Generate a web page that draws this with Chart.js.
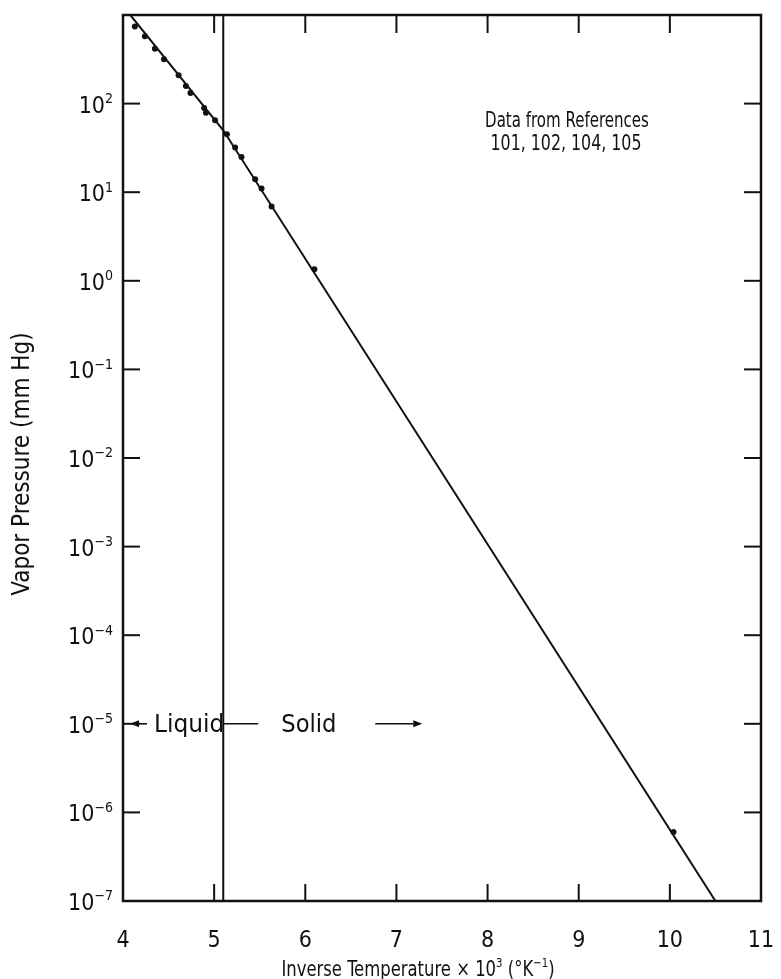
<!DOCTYPE html>
<html>
<head>
<meta charset="utf-8">
<script src="https://cdn.jsdelivr.net/npm/chart.js@4.4.1/dist/chart.umd.min.js"></script>
<style>
  html, body { margin: 0; padding: 0; background: #fff; }
  #wrap { width: 781px; height: 979px; }
</style>
</head>
<body>
<div id="wrap"><canvas id="vp" width="781" height="979"></canvas></div>
<script>
// axis ticks
const xTicks = [4, 5, 6, 7, 8, 9, 10, 11];
const yDecades = [-7, -6, -5, -4, -3, -2, -1, 0, 1, 2];

// fitted curve: liquid branch, bend at the triple point, solid branch
const curveX = [4.08, 5.1, 10.5];
const curveP = [1000, 50, 1e-7];

// measured points (mm Hg)
const measuredX = [4.13, 4.24, 4.35, 4.45, 4.61, 4.69, 4.74, 4.89, 4.91, 5.01,
                   5.14, 5.23, 5.30, 5.45, 5.52, 5.63, 6.10, 10.04];
const measuredP = [741, 575, 417, 316, 209, 158, 132, 89, 79, 65,
                   45, 32, 25, 14, 11, 6.9, 1.35, 6.0e-7];

const triplePointX = 5.1;
const phaseLabelP = 1e-5;

const FONT = "'Liberation Sans Narrow', 'DejaVu Sans Condensed', 'Liberation Sans', sans-serif";
const INK = "#111";

function strokeLine(ctx, x1, y1, x2, y2) {
  ctx.beginPath();
  ctx.moveTo(x1, y1);
  ctx.lineTo(x2, y2);
  ctx.stroke();
}

function arrowHead(ctx, x, y, dir) {
  ctx.beginPath();
  ctx.moveTo(x, y);
  ctx.lineTo(x - dir * 9, y - 3.5);
  ctx.lineTo(x - dir * 9, y + 3.5);
  ctx.closePath();
  ctx.fill();
}

// draws a run of text pieces, some of them raised as superscripts;
// squeeze < 1 narrows the glyphs horizontally
function drawRuns(ctx, runs, x, baseline, size, align, squeeze = 1) {
  const supSize = Math.round(size * 0.62);
  const widths = runs.map((r) => {
    ctx.font = `${r.sup ? supSize : size}px ${FONT}`;
    return ctx.measureText(r.t).width * squeeze;
  });
  const total = widths.reduce((a, b) => a + b, 0);
  let cx = align === "right" ? x - total : align === "center" ? x - total / 2 : x;
  ctx.textAlign = "left";
  ctx.textBaseline = "alphabetic";
  runs.forEach((r, i) => {
    ctx.font = `${r.sup ? supSize : size}px ${FONT}`;
    ctx.save();
    ctx.translate(cx, r.sup ? baseline - size * 0.42 : baseline);
    ctx.scale(squeeze, 1);
    ctx.fillText(r.t, 0, 0);
    ctx.restore();
    cx += widths[i];
  });
}

const framePlugin = {
  id: "frame",
  afterDatasetsDraw(chart) {
    const { ctx, chartArea: a, scales: { x, y } } = chart;
    ctx.save();
    ctx.strokeStyle = INK;
    ctx.fillStyle = INK;
    ctx.lineCap = "butt";

    // plot frame
    ctx.lineWidth = 2.5;
    ctx.strokeRect(a.left, a.top, a.right - a.left, a.bottom - a.top);

    // inward tick marks on all four sides
    ctx.lineWidth = 2;
    xTicks.slice(1, -1).forEach((v) => {
      const px = x.getPixelForValue(v);
      strokeLine(ctx, px, a.bottom, px, a.bottom - 17);
      strokeLine(ctx, px, a.top, px, a.top + 18);
    });
    yDecades.slice(1).forEach((e) => {
      const py = y.getPixelForValue(Math.pow(10, e));
      strokeLine(ctx, a.left, py, a.left + 17, py);
      strokeLine(ctx, a.right, py, a.right - 17, py);
    });

    // triple point divider
    const tx = x.getPixelForValue(triplePointX);
    strokeLine(ctx, tx, a.top, tx, a.bottom);

    // phase labels
    const py = y.getPixelForValue(phaseLabelP);
    ctx.lineWidth = 1.6;
    strokeLine(ctx, a.left + 10, py, a.left + 24, py);
    arrowHead(ctx, a.left + 7, py, -1);
    drawRuns(ctx, [{ t: "Liquid" }], a.left + 31, py + 8, 24, "left", 1.08);
    strokeLine(ctx, tx, py, tx + 35, py);
    drawRuns(ctx, [{ t: "Solid" }], tx + 58, py + 8, 24, "left", 1.05);
    strokeLine(ctx, tx + 152, py, tx + 190, py);
    arrowHead(ctx, tx + 199, py, 1);

    // source note
    drawRuns(ctx, [{ t: "Data from References" }], 567, 127, 22, "center", 0.76);
    drawRuns(ctx, [{ t: "101, 102, 104, 105" }], 566, 150, 22, "center", 0.8);
    ctx.restore();
  },
  afterDraw(chart) {
    const { ctx, chartArea: a, scales: { x, y } } = chart;
    ctx.save();
    ctx.fillStyle = INK;

    // y tick labels 10^n
    yDecades.forEach((e) => {
      const py = y.getPixelForValue(Math.pow(10, e));
      const exp = e < 0 ? "\u2212" + Math.abs(e) : String(e);
      drawRuns(ctx, [{ t: "10" }, { t: exp, sup: true }], a.left - 10, py + 9, 23, "right");
    });

    // x tick labels
    ctx.font = `23px ${FONT}`;
    ctx.textAlign = "center";
    ctx.textBaseline = "middle";
    xTicks.forEach((v) => ctx.fillText(String(v), x.getPixelForValue(v), a.bottom + 40));

    // axis titles
    drawRuns(ctx, [
      { t: "Inverse Temperature \u00d7 10" }, { t: "3", sup: true },
      { t: " (\u00b0K" }, { t: "\u22121", sup: true }, { t: ")" }
    ], 418, 976, 21, "center", 0.87);

    ctx.translate(29, (a.top + a.bottom) / 2 + 6);
    ctx.rotate(-Math.PI / 2);
    drawRuns(ctx, [{ t: "Vapor Pressure (mm Hg)" }], 0, 0, 24, "center");
    ctx.restore();
  }
};

new Chart(document.getElementById("vp"), {
  type: "scatter",
  data: {
    datasets: [
      {
        data: curveX.map((v, i) => ({ x: v, y: curveP[i] })),
        showLine: true,
        borderColor: INK,
        borderWidth: 2,
        pointRadius: 0,
        tension: 0,
      },
      {
        data: measuredX.map((v, i) => ({ x: v, y: measuredP[i] })),
        backgroundColor: INK,
        borderWidth: 0,
        pointRadius: 3,
      },
    ],
  },
  options: {
    responsive: false,
    animation: false,
    devicePixelRatio: 1,
    layout: { padding: { left: 0, right: 20, top: 15, bottom: 0 } },
    plugins: { legend: { display: false }, tooltip: { enabled: false } },
    scales: {
      x: {
        type: "linear",
        min: 4,
        max: 11,
        ticks: { display: false },
        grid: { display: false },
        border: { display: false },
        afterFit: (s) => { s.height = 78; },
      },
      y: {
        type: "logarithmic",
        min: 1e-7,
        max: 1e3,
        ticks: { display: false },
        grid: { display: false },
        border: { display: false },
        afterFit: (s) => { s.width = 123; },
      },
    },
  },
  plugins: [framePlugin],
});
</script>
</body>
</html>
